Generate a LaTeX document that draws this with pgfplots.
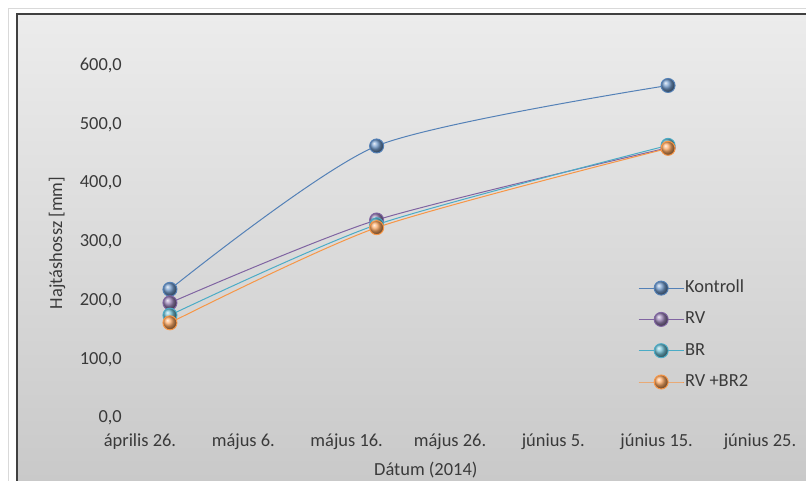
\documentclass[border=0pt]{standalone}
\usepackage{fontspec}
\setmainfont{Carlito}
\usepackage{pgfplots}
\pgfplotsset{compat=1.18}
\definecolor{kblue}{HTML}{4F81BD}
\definecolor{kpurple}{HTML}{8064A2}
\definecolor{kaqua}{HTML}{4BACC6}
\definecolor{korange}{HTML}{F79646}
\definecolor{bgtop}{HTML}{ECECEC}
\definecolor{bgbot}{HTML}{C9C9C9}
\definecolor{txt}{HTML}{3A3A3A}
\begin{document}
\begin{tikzpicture}[x=1bp,y=1bp]
\path[use as bounding box] (0,0) rectangle (806,481);
\shade[top color=bgtop, bottom color=bgbot] (17,0) rectangle (806,467);
\draw[gray!30, line width=0.8bp] (8,0) -- (8,473) -- (806,473);
\draw[black!75, line width=1.6bp] (17,0) -- (17,467) -- (806,467);
\begin{axis}[
  at={(140bp,63bp)}, anchor=south west,
  scale only axis, width=620bp, height=352.5bp,
  xmin=0, xmax=60, ymin=0, ymax=600,
  clip=false,
  axis line style={draw=none},
  major tick style={draw=none},
  minor tick num=0,
  xtick={0,10,20,30,40,50,60},
  xticklabels={április 26.,május 6.,május 16.,május 26.,június 5.,június 15.,június 25.},
  ytick={0,100,200,300,400,500,600},
  every tick label/.append style={font=\fontsize{18.5}{22}\selectfont, text=txt},
  /pgf/number format/fixed, /pgf/number format/fixed zerofill, /pgf/number format/precision=1,
  /pgf/number format/use comma, /pgf/number format/assume math mode=true,
  yticklabel style={anchor=east, inner sep=0pt, xshift=-18bp},
  xticklabel style={anchor=north, inner sep=0pt, yshift=-16bp},
  every axis y label/.style={at={(axis description cs:-0.1339,0.4965)}, rotate=90, anchor=center, font=\fontsize{18.5}{22}\selectfont, text=txt},
  every axis x label/.style={at={(axis description cs:0.461,-0.148)}, anchor=center, font=\fontsize{18.5}{22}\selectfont, text=txt},
  ylabel={Hajtáshossz [mm]},
  xlabel={Dátum (2014)},
  legend style={at={(axis description cs:0.8032,0.396)}, anchor=north west, draw=none, fill=none, inner sep=0pt,
    font=\fontsize{18.5}{22}\selectfont, text=txt, row sep=12.3bp,
    nodes={inner sep=1bp, text height=13bp, text depth=4bp}},
  legend cell align=left,
  legend image code/.code={\draw[mark repeat=2, mark phase=2] plot coordinates {(0bp,0bp)(22.5bp,0bp)(45bp,0bp)};},
  every axis plot/.append style={smooth, tension=0.42, line width=1bp, mark=ball, mark size=7bp},
]
\addplot[color=kblue!90!gray, mark options={ball color=kblue!80!white}] coordinates {(2.9,219) (22.9,463) (51.1,566)};
\addlegendentry{Kontroll}
\addplot[color=kpurple, mark options={ball color=kpurple!80!white}] coordinates {(2.9,196) (22.9,337) (51.1,460)};
\addlegendentry{RV}
\addplot[color=kaqua, mark options={ball color=kaqua!80!white}] coordinates {(2.9,175) (22.9,329) (51.1,464)};
\addlegendentry{BR}
\addplot[color=korange, mark options={ball color=korange!85!white}] coordinates {(2.9,162) (22.9,324) (51.1,459)};
\addlegendentry{RV +BR2}
\end{axis}
\end{tikzpicture}
\end{document}
